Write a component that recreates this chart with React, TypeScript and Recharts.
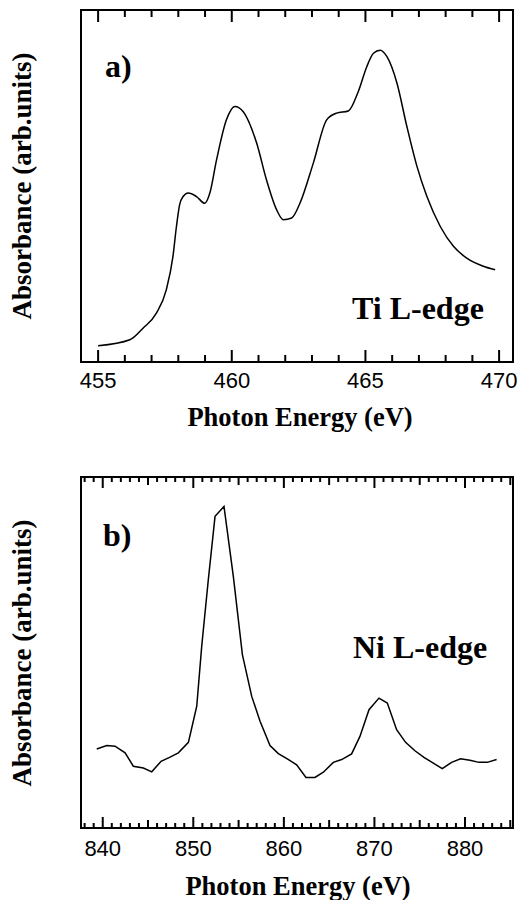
import React from 'react';
import { LineChart, Line, XAxis, YAxis, ReferenceArea } from 'recharts';

// ---- Ti L-edge (panel a) ----
const tiEnergy = [455.0, 456.19, 456.68, 457.18, 457.55, 457.8, 457.93, 458.05, 458.18, 458.37, 458.68, 458.99, 459.18, 459.43, 459.8, 460.12, 460.43, 460.93, 461.3, 461.68, 461.93, 462.24, 462.55, 463.05, 463.55, 463.92, 464.36, 464.73, 465.05, 465.3, 465.55, 465.8, 466.18, 466.55, 466.93, 467.3, 467.8, 468.3, 468.79, 469.41, 469.85];
const tiAbs = [4.6, 6.3, 9.6, 13.9, 20.5, 30.0, 38.5, 44.7, 47.0, 48.0, 47.0, 45.1, 48.0, 57.4, 68.8, 72.6, 71.1, 62.2, 51.7, 43.2, 40.4, 40.9, 45.1, 56.5, 68.8, 70.7, 71.3, 76.8, 83.9, 87.7, 88.6, 86.8, 79.2, 66.9, 55.5, 47.0, 38.5, 32.8, 29.5, 27.2, 26.2];
const tiTicks = [455, 456, 457, 458, 459, 460, 461, 462, 463, 464, 465, 466, 467, 468, 469, 470];
const tiLabels = [455, 460, 465, 470];

// ---- Ni L-edge (panel b) ----
const niEnergy = [839.34, 840.44, 841.36, 842.47, 843.38, 844.49, 845.41, 846.44, 847.43, 848.35, 849.46, 850.38, 850.93, 851.66, 852.4, 853.39, 854.42, 855.42, 856.45, 857.37, 858.47, 859.39, 860.38, 861.41, 862.44, 863.43, 864.36, 865.46, 866.38, 867.48, 868.4, 869.4, 870.5, 871.42, 872.45, 873.44, 874.47, 875.47, 876.5, 877.49, 878.52, 879.51, 880.54, 881.54, 882.46, 883.49];
const niAbs = [22.5, 23.5, 23.3, 21.4, 17.6, 17.1, 16.0, 19.0, 20.2, 21.4, 24.4, 34.7, 51.8, 70.8, 88.8, 91.6, 71.7, 49.4, 37.5, 30.4, 23.5, 21.2, 19.7, 18.0, 14.4, 14.4, 15.9, 18.7, 19.5, 21.1, 26.1, 33.7, 37.0, 35.6, 28.0, 24.4, 22.0, 20.1, 18.5, 16.9, 18.7, 19.7, 19.3, 18.7, 18.7, 19.5];
const niTicks = [838, 839, 840, 841, 842, 843, 844, 845, 846, 847, 848, 849, 850, 851, 852, 853, 854, 855, 856, 857, 858, 859, 860, 861, 862, 863, 864, 865, 866, 867, 868, 869, 870, 871, 872, 873, 874, 875, 876, 877, 878, 879, 880, 881, 882, 883, 884, 885];
const niLabels = [840, 850, 860, 870, 880];

const TI_DOMAIN: [number, number] = [454.36, 470.52];
const NI_DOMAIN: [number, number] = [837.6, 885.3];

const tiData = tiEnergy.map((e, i) => ({ e, a: tiAbs[i] }));
const niData = niEnergy.map((e, i) => ({ e, a: niAbs[i] }));

const SANS = '"Liberation Sans", Arial, Helvetica, sans-serif';
const SERIF = '"Liberation Serif", "Times New Roman", Times, serif';

const tiLen = (v: number) => (v % 5 === 0 ? 12 : 7);
const niLen = (v: number) => (v % 10 === 0 ? 11 : v % 5 === 0 ? 8 : 5);

const makeTick = (lenFn: (v: number) => number, dir: 1 | -1, labels: number[] | null, labelDy: number) =>
  (props: any) => {
    const { x, y, payload } = props;
    const v = payload.value;
    const len = lenFn(v);
    return (
      <g>
        <line x1={x} x2={x} y1={y} y2={y + dir * len} stroke="#000" strokeWidth={2} />
        {labels && labels.includes(v) ? (
          <text x={x} y={y + labelDy} textAnchor="middle" fontSize={22} fontFamily={SANS} fill="#000">
            {v}
          </text>
        ) : null}
      </g>
    );
  };

const Panel = ({ data, domain, ticks, labels, lenFn, height, margin, labelDy, curve }: any) => (
  <LineChart width={531} height={height} data={data} margin={margin}>
    <XAxis
      dataKey="e"
      type="number"
      domain={domain}
      allowDataOverflow
      ticks={ticks}
      interval={0}
      height={1}
      tickSize={0}
      tickMargin={0}
      axisLine={false}
      tickLine={false}
      tick={makeTick(lenFn, -1, labels, labelDy)}
    />
    <XAxis
      xAxisId="top"
      orientation="top"
      dataKey="e"
      type="number"
      domain={domain}
      allowDataOverflow
      ticks={ticks}
      interval={0}
      height={1}
      tickSize={0}
      tickMargin={0}
      axisLine={false}
      tickLine={false}
      tick={makeTick(lenFn, 1, null, 0)}
    />
    <YAxis hide type="number" domain={[0, 100]} />
    <Line
      type={curve}
      dataKey="a"
      stroke="#000"
      strokeWidth={1.5}
      dot={false}
      isAnimationActive={false}
    />
    <ReferenceArea
      x1={domain[0]}
      x2={domain[1]}
      y1={0}
      y2={100}
      fill="none"
      fillOpacity={0}
      stroke="#000"
      strokeWidth={2}
      ifOverflow="visible"
    />
  </LineChart>
);

export default function App() {
  return (
    <div style={{ position: 'absolute', left: 0, top: 0, width: 531, height: 900, background: '#fff', overflow: 'hidden' }}>
      <div style={{ position: 'absolute', left: 0, top: 0 }}>
        <Panel
          data={tiData}
          domain={TI_DOMAIN}
          ticks={tiTicks}
          labels={tiLabels}
          lenFn={tiLen}
          height={440}
          margin={{ top: 9, right: 18, left: 81, bottom: 77 }}
          labelDy={26}
          curve="monotone"
        />
      </div>
      <div style={{ position: 'absolute', left: 0, top: 440 }}>
        <Panel
          data={niData}
          domain={NI_DOMAIN}
          ticks={niTicks}
          labels={niLabels}
          lenFn={niLen}
          height={460}
          margin={{ top: 36, right: 18, left: 81, bottom: 71 }}
          labelDy={28}
          curve="linear"
        />
      </div>
      <svg width={531} height={900} style={{ position: 'absolute', left: 0, top: 0, pointerEvents: 'none' }}>
        <g fontFamily={SERIF} fontWeight="bold" fill="#000">
          <text x={105} y={77} fontSize={32}>a)</text>
          <text x={352} y={319} fontSize={32}>Ti L-edge</text>
          <text x={300} y={426} fontSize={26.5} textAnchor="middle">Photon Energy (eV)</text>
          <text transform="translate(31,186) rotate(-90)" fontSize={27} textAnchor="middle">Absorbance (arb.units)</text>

          <text x={103} y={546} fontSize={32}>b)</text>
          <text x={353} y={658} fontSize={32}>Ni L-edge</text>
          <text x={298} y={895} fontSize={26.5} textAnchor="middle">Photon Energy (eV)</text>
          <text transform="translate(31,653) rotate(-90)" fontSize={27} textAnchor="middle">Absorbance (arb.units)</text>
        </g>
      </svg>
    </div>
  );
}
